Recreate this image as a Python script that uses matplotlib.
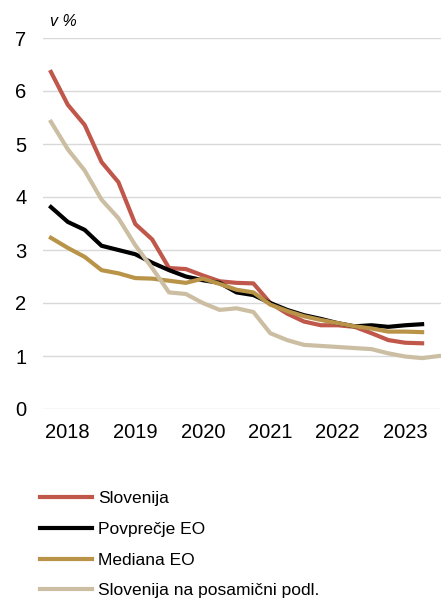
import matplotlib.pyplot as plt

plt.rcParams['font.family'] = ['Liberation Sans', 'DejaVu Sans']

years = ['2018', '2019', '2020', '2021', '2022', '2023']
year_pos = [1, 5, 9, 13, 17, 21]

slovenija = [6.36, 5.74, 5.36, 4.66, 4.28, 3.49, 3.20, 2.66, 2.64, 2.52, 2.41, 2.38, 2.37,
             2.00, 1.80, 1.65, 1.58, 1.58, 1.55, 1.43, 1.30, 1.25, 1.24]
povprecje = [3.81, 3.53, 3.38, 3.08, 3.00, 2.92, 2.76, 2.62, 2.50, 2.43, 2.38, 2.20, 2.15,
             2.00, 1.87, 1.77, 1.70, 1.62, 1.56, 1.58, 1.55, 1.58, 1.60]
mediana = [3.23, 3.04, 2.87, 2.62, 2.56, 2.47, 2.46, 2.42, 2.38, 2.46, 2.36, 2.25, 2.20,
           1.97, 1.85, 1.75, 1.68, 1.62, 1.56, 1.52, 1.46, 1.46, 1.45]
posamicna = [5.42, 4.90, 4.50, 3.95, 3.60, 3.09, 2.66, 2.20, 2.17, 2.00, 1.87, 1.90, 1.83,
             1.43, 1.30, 1.21, 1.19, 1.17, 1.15, 1.13, 1.05, 0.99, 0.96, 1.00]

fig = plt.figure(figsize=(4.41, 6.01), dpi=100)
ax = fig.add_axes([43 / 441, 1 - 409 / 601, 398 / 441, 371 / 601])

lw = 3
ax.plot(range(len(slovenija)), slovenija, color='#C0574B', lw=lw, label='Slovenija')
ax.plot(range(len(povprecje)), povprecje, color='#000000', lw=lw, label='Povprečje EO')
ax.plot(range(len(mediana)), mediana, color='#B99448', lw=lw, label='Mediana EO')
ax.plot(range(len(posamicna)), posamicna, color='#CBBEA2', lw=lw,
        label='Slovenija na posamični podl.')

ax.set_xlim(-0.47, 23.12)
ax.set_ylim(0, 7)
ax.set_yticks(range(0, 8))
ax.set_xticks(year_pos)
ax.set_xticklabels(years)
ax.tick_params(axis='both', length=0, labelsize=14.5, colors='#000000')
ax.tick_params(axis='y', pad=12)
ax.tick_params(axis='x', pad=10)
ax.grid(axis='y', color='#D9D9D9', lw=1)
ax.set_axisbelow(True)
for s in ax.spines.values():
    s.set_visible(False)

fig.text(50 / 441, 1 - 22 / 601, 'v %', fontsize=11.5, style='italic', va='center')

fig.legend(loc='upper left', bbox_to_anchor=(40 / 441, 1 - 491 / 601), frameon=False,
           fontsize=12.5, handlelength=3.0, handletextpad=0.35, labelspacing=0.9,
           borderpad=0, borderaxespad=0)

fig.savefig('out.png', dpi=100)
